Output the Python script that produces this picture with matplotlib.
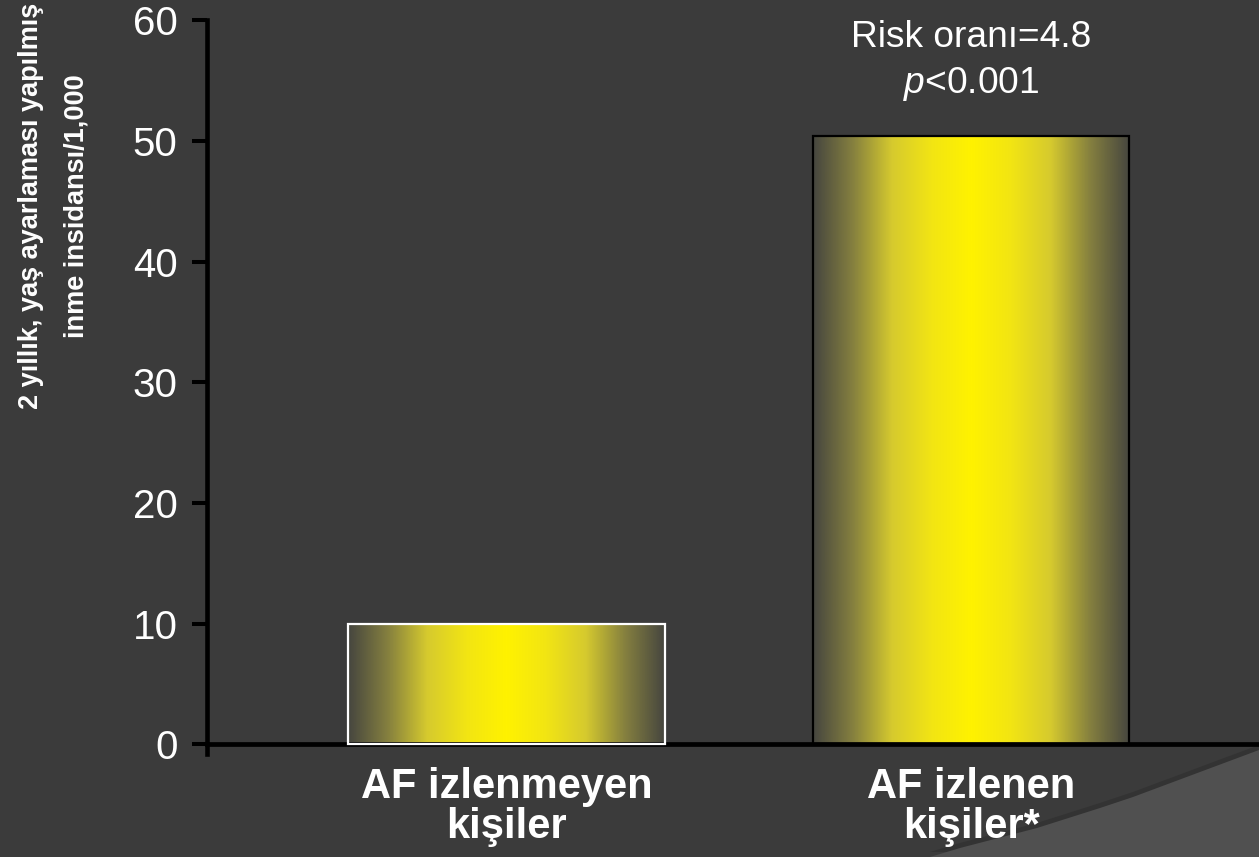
import numpy as np
import matplotlib
matplotlib.use('Agg')
import matplotlib.pyplot as plt
from matplotlib import font_manager
from matplotlib.colors import LinearSegmentedColormap
from matplotlib.patches import Polygon

plt.rcParams['font.family'] = 'Liberation Sans'
plt.rcParams['mathtext.fontset'] = 'custom'
plt.rcParams['mathtext.rm'] = 'Liberation Sans'
plt.rcParams['mathtext.it'] = 'Liberation Sans:italic'

# data
groups = ['AF izlenmeyen\nkişiler', 'AF izlenen\nkişiler*']
incidence = [10.0, 50.4]
edge_colors = ['white', 'black']
y_ticks = [0, 10, 20, 30, 40, 50, 60]
ylabel = '2 yıllık, yaş ayarlaması yapılmış\ninme insidansı/1,000'
note_ratio = 'Risk oranı=4.8'
note_p = '$p$<0.001'

# the slide's y label is set in a condensed face; use a narrow one if present
try:
    font_manager.findfont('Liberation Sans Narrow', fallback_to_default=False)
    label_family, label_size, label_spacing = 'Liberation Sans Narrow', 23, 1.7
except ValueError:
    label_family, label_size, label_spacing = 'Liberation Sans', 19.5, 2.0

bg = '#3b3b3b'
W, H = 1259, 857
fig = plt.figure(figsize=(W / 100, H / 100), dpi=100, facecolor=bg)

# lighter slide corner at the bottom right
corner_px = [(930, 857), (960, 848), (1037, 828), (1100, 808), (1133, 797),
             (1259, 750), (1259, 857)]
shadow = Polygon([(x / W, 1 - (y - 5) / H) for x, y in corner_px],
                 transform=fig.transFigure, facecolor='#333333', edgecolor='none', zorder=-2)
corner = Polygon([(x / W, 1 - y / H) for x, y in corner_px],
                 transform=fig.transFigure, facecolor='#505050', edgecolor='none', zorder=-1)
fig.patches.extend([shadow, corner])

ax = fig.add_axes([207 / W, (H - 754) / H, (W - 207) / W, 733.8 / H])
ax.set_facecolor('none')

bars = ax.bar(range(len(groups)), incidence, width=0.682, facecolor='none',
              edgecolor=edge_colors, linewidth=1.6, zorder=3)

# horizontal glow: grey at the edges, yellow in the middle
glow = LinearSegmentedColormap.from_list(
    'glow', [(0, '#46463f'), (0.25, '#85803f'), (0.5, '#d6ca2e'),
             (0.75, '#f2e513'), (1, '#fff200')])
u = np.linspace(0, 1, 400)
t = 1 - np.abs(2 * u - 1)
for bar in bars:
    x0 = bar.get_x()
    im = ax.imshow(t[None, :], cmap=glow, vmin=0, vmax=1, aspect='auto',
                   extent=[x0, x0 + bar.get_width(), 0, bar.get_height()],
                   interpolation='bilinear', zorder=2)
    im.set_clip_path(bar)

ax.set_xlim(-0.645, 1.62)
ax.set_ylim(-0.8, 60)

for s in ['top', 'right']:
    ax.spines[s].set_visible(False)
ax.spines['left'].set_linewidth(3.3)
ax.spines['left'].set_color('black')
ax.spines['bottom'].set_position(('data', 0))
ax.spines['bottom'].set_linewidth(3.4)
ax.spines['bottom'].set_color('black')

ax.set_yticks(y_ticks)
ax.tick_params(axis='y', direction='out', length=10.8, width=2.9, color='black',
               labelcolor='white', labelsize=29, pad=10.5)
ax.set_xticks(range(len(groups)))
ax.set_xticklabels(groups, fontsize=30, fontweight='bold', color='white', linespacing=1.0)
ax.tick_params(axis='x', length=0, pad=16)

ax.text(1, 57.75, note_ratio, ha='center', va='baseline', fontsize=26.7, color='white')
ax.text(1, 54.0, note_p, ha='center', va='baseline', fontsize=26.7, color='white')

fig.text(54 / W, 1 - 206 / H, ylabel, rotation=90, ha='center', va='center',
         family=label_family, fontsize=label_size, fontweight='bold', color='white',
         linespacing=label_spacing)

fig.savefig('out.png', dpi=100, facecolor=bg)
